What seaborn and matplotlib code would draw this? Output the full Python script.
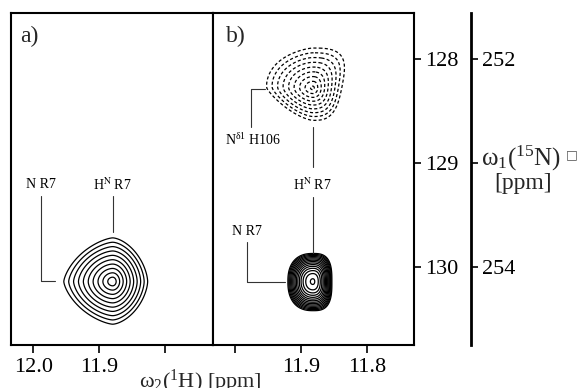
import numpy as np
import matplotlib
matplotlib.use("Agg")
import matplotlib.pyplot as plt
import seaborn as sns

sns.set_style("white")
plt.rcParams['font.family'] = ['Liberation Serif', 'DejaVu Serif']
plt.rcParams['mathtext.fontset'] = 'stix'
plt.rcParams['mathtext.default'] = 'regular'

# ---------------- data ----------------
h_ticks = [12.0, 11.9, 11.8]
a_h_labels = ["12.0", "11.9", ""]
b_h_labels = ["", "11.9", "11.8"]
n_ticks = [128, 129, 130]
n_labels = ["128", "129", "130"]
alias_ticks = [252, 253, 254]
alias_labels = ["252", "", "254"]
alias_offset = 124

# peaks (1H / 15N centres in ppm, outer-contour extents in ppm)
peak_panel = ["a", "b", "b"]
peak_h = [11.880, 11.882, 11.882]
peak_n = [130.14, 130.14, 128.28]
peak_sign = [1, 1, -1]
peak_shape = ["lorentz", "gauss", "lorentz"]
peak_ext_left = [0.074, 0.038, 0.070]
peak_ext_right = [0.053, 0.029, 0.044]
peak_ext_up = [0.42, 0.27, 0.385]
peak_ext_down = [0.41, 0.28, 0.31]
peak_p_left = [1.5, 2.4, 1.5]
peak_p_right = [1.65, 3.0, 3.0]
peak_taper = [0.0, 0.0, 0.25]
peak_nlev = [10, 15, 9]
peak_r_in = [0.7, 0.22, 0.35]

# assignment annotations: panel, label, label position, connector path
ann_panel = ["a", "a", "b", "b", "b"]
ann_text = ["N R7", r"H$^{\rm N}$ R7", r"N$^{\delta1}$ H106", r"H$^{\rm N}$ R7", "N R7"]
ann_h = [11.989, 11.880, 11.973, 11.882, 11.982]
ann_n = [129.21, 129.21, 128.78, 129.21, 129.66]
line_paths = {
    "a": [([11.988, 11.988, 11.967], [129.32, 130.135, 130.135]),
          ([11.880, 11.880], [129.32, 129.66])],
    "b": [([11.976, 11.976, 11.955], [128.65, 128.29, 128.29]),
          ([11.882, 11.882], [128.65, 129.04]),
          ([11.882, 11.882], [129.33, 129.865]),
          ([11.982, 11.982, 11.925], [129.76, 130.14, 130.14])],
}

h_lim = (12.034, 11.728)
n_lim = (130.75, 127.558)

# ---------------- figure ----------------
W, H = 581, 388
fig = plt.figure(figsize=(W / 100, H / 100), dpi=100)
bot = 1 - 345 / H
hgt = (345 - 13) / H
ax_a = fig.add_axes([11 / W, bot, 202 / W, hgt])
ax_b = fig.add_axes([213 / W, bot, 201 / W, hgt])
axes = {"a": ax_a, "b": ax_b}

hg = np.linspace(11.70, 12.06, 700)
ng = np.linspace(127.4, 130.9, 700)
X, Y = np.meshgrid(hg, ng)

for i in range(len(peak_h)):
    ax = axes[peak_panel[i]]
    gauss = peak_shape[i] == "gauss"
    R = 2.2 if gauss else 7.0
    dx = X - peak_h[i]
    dy = Y - peak_n[i]
    v = np.where(dy < 0, dy / (peak_ext_up[i] / R), dy / (peak_ext_down[i] / R))
    u = np.where(dx > 0, dx / (peak_ext_left[i] / R), dx / (peak_ext_right[i] / R))
    u = u * (1 + peak_taper[i] * v / R)
    re = np.sqrt(u ** 2 + v ** 2)
    p_side = np.where(dx > 0, peak_p_left[i], peak_p_right[i])
    p = 2 + (p_side - 2) * np.clip(re / R, 0, 1)
    r = (np.abs(u) ** p + np.abs(v) ** p) ** (1 / p)
    if gauss:
        z = np.exp(-r ** 2)
        lev = np.geomspace(np.exp(-R ** 2), np.exp(-peak_r_in[i] ** 2), peak_nlev[i])
    else:
        z = 1.0 / (1 + r ** 2)
        rr = np.linspace(R, peak_r_in[i], peak_nlev[i])
        lev = 1.0 / (1 + rr ** 2)
    if peak_sign[i] > 0:
        ax.contour(X, Y, z, levels=lev, colors="black", linewidths=0.9,
                   linestyles="solid")
    else:
        ax.contour(X, Y, -z, levels=-lev[::-1], colors="black", linewidths=0.9,
                   linestyles=[(0, (2.5, 1.8))])

for i in range(len(ann_text)):
    axes[ann_panel[i]].text(ann_h[i], ann_n[i], ann_text[i], ha="center",
                            va="center", fontsize=10, color="black")
for pnl, paths in line_paths.items():
    for xs, ys in paths:
        axes[pnl].plot(xs, ys, color="#333333", lw=0.8)

for pnl, ax in axes.items():
    ax.set_xlim(*h_lim)
    ax.set_ylim(*n_lim)
    ax.set_xticks(h_ticks)
    ax.set_xticklabels(a_h_labels if pnl == "a" else b_h_labels)
    for s in ax.spines.values():
        s.set_color("black")
        s.set_linewidth(1.5)
    ax.tick_params(axis="x", bottom=True, direction="out", length=6, width=1.2,
                   labelsize=16, pad=3, colors="black")
    ax.text(0.045 if pnl == "a" else 0.065, 0.93, pnl + ")", transform=ax.transAxes,
            fontsize=17, ha="left", va="center")

ax_a.set_yticks([])
ax_b.set_yticks(n_ticks)
ax_b.set_yticklabels(n_labels)
ax_b.yaxis.tick_right()
ax_b.tick_params(axis="y", right=True, left=False, direction="out", length=5,
                 width=1.2, labelsize=16, pad=3, colors="black")

# second (aliased) 15N scale
ax_c = fig.add_axes([471 / W, bot, 0.0001, hgt])
ax_c.set_ylim(n_lim[0] + alias_offset, n_lim[1] + alias_offset)
ax_c.set_xticks([])
for k in ["left", "top", "bottom"]:
    ax_c.spines[k].set_visible(False)
ax_c.spines["right"].set_color("black")
ax_c.spines["right"].set_linewidth(2)
ax_c.patch.set_alpha(0)
ax_c.yaxis.tick_right()
ax_c.set_yticks(alias_ticks)
ax_c.set_yticklabels(alias_labels)
ax_c.tick_params(axis="y", right=True, left=False, direction="out", length=5,
                 width=1.2, labelsize=16, pad=3, colors="black")

fig.text(481 / W, 1 - 158 / H, r"$\omega_1$($^{15}$N)", ha="left",
         va="center", fontsize=18)
fig.text(566 / W, 1 - 155 / H, "□", ha="left", va="center", fontsize=9,
         family="DejaVu Sans", color="#555555")
fig.text(523 / W, 1 - 184 / H, "[ppm]", ha="center", va="center", fontsize=17)
fig.text(200 / W, 1 - 382 / H, r"$\omega_2$($^{1}$H) [ppm]", ha="center",
         va="center", fontsize=16)

fig.savefig("out.png", dpi=100)
